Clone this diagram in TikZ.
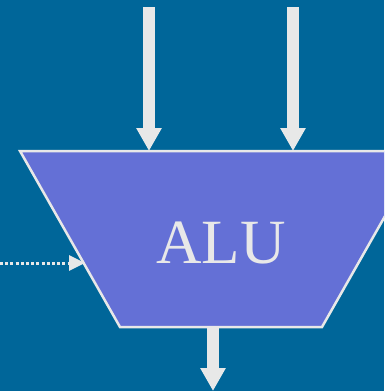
\documentclass[tikz,border=0pt]{standalone}
\usepackage{fontspec}
\setmainfont{Liberation Serif}
\usetikzlibrary{arrows.meta}
\definecolor{bgblue}{RGB}{0,102,153}
\definecolor{alufill}{RGB}{100,112,214}
\definecolor{lightgray}{RGB}{232,232,232}
\tikzset{
  bigarrow/.style={draw=lightgray, line width=12pt, -{Triangle[width=24pt,length=23pt]}},
  dotarrow/.style={draw=lightgray, line width=3pt, dash pattern=on 3pt off 2.2pt, -{Triangle[width=15pt,length=16pt]}},
  alushape/.style={fill=alufill, draw=lightgray, line width=2.5pt, line join=miter},
  alutext/.style={text=lightgray, font=\fontsize{63}{63}\selectfont, inner sep=0pt}
}
\begin{document}
\begin{tikzpicture}[x=1pt,y=1pt]
\useasboundingbox (0,0) rectangle (384,-391);
\clip (0,0) rectangle (384,-391);
\fill[bgblue] (0,0) rectangle (384,-391);
% ALU trapezoid
\draw[alushape] (20,-151) -- (422,-151) -- (322,-327) -- (120,-327) -- cycle;
\node[alutext, anchor=base] (alu) at (221,-263) {ALU};
% connector endpoints
\coordinate (inA) at (149,-7);
\coordinate (inAend) at (149,-151);
\coordinate (inB) at (293,-7);
\coordinate (inBend) at (293,-151);
\coordinate (ctrl) at (0,-263);
\coordinate (ctrlend) at (85,-263);
\coordinate (out) at (213,-328);
\coordinate (outend) at (213,-391);
\draw[bigarrow] (inA) -- (inAend);
\draw[bigarrow] (inB) -- (inBend);
\draw[bigarrow] (out) -- (outend);
\draw[dotarrow] (ctrl) -- (ctrlend);
\end{tikzpicture}
\end{document}
